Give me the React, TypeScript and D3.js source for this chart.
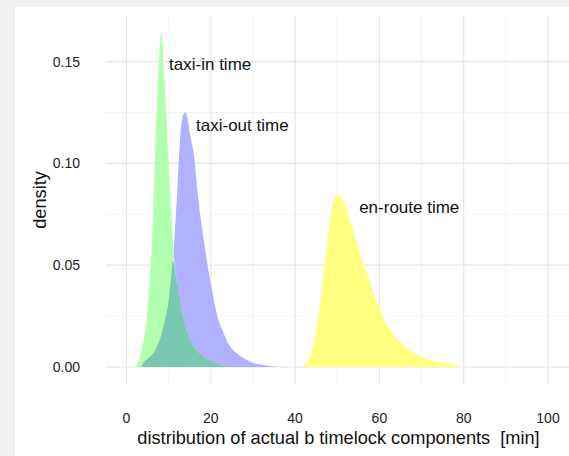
import React from "react";
import * as d3 from "d3";

// Density curves of the three timelock components (minutes -> density)
const taxiInMin = [2, 2.5, 3, 4, 5, 6, 7, 7.5, 8, 8.3, 9, 10, 10.5, 11, 12, 13, 14, 15, 16, 17, 18, 19, 20, 22, 24];
const taxiInDensity = [0, 0.001, 0.004, 0.012, 0.029, 0.06, 0.119, 0.143, 0.16, 0.164, 0.143, 0.1, 0.08, 0.062, 0.041, 0.029, 0.02, 0.014, 0.01, 0.0075, 0.0055, 0.004, 0.003, 0.0012, 0];

const taxiOutMin = [3.5, 4, 5, 6, 7, 8, 9, 10, 11, 12, 12.5, 13, 13.8, 14.5, 15, 16, 17, 18, 19, 20, 21, 22, 23, 24, 25, 26, 28, 30, 32, 34, 36];
const taxiOutDensity = [0, 0.002, 0.004, 0.006, 0.009, 0.014, 0.022, 0.033, 0.052, 0.085, 0.105, 0.119, 0.125, 0.122, 0.115, 0.104, 0.083, 0.067, 0.053, 0.041, 0.03, 0.022, 0.017, 0.012, 0.009, 0.007, 0.004, 0.002, 0.0012, 0.0005, 0];

const enRouteMin = [41.5, 42, 43, 44, 45, 46, 47, 48, 49, 50, 51, 52, 53, 54, 55, 56, 57, 58, 59, 60, 61, 62, 63, 64, 65, 66, 68, 70, 72, 74, 76, 78, 80];
const enRouteDensity = [0, 0.0005, 0.003, 0.008, 0.018, 0.032, 0.05, 0.068, 0.081, 0.0845, 0.083, 0.079, 0.072, 0.065, 0.059, 0.052, 0.046, 0.04, 0.034, 0.029, 0.024, 0.02, 0.017, 0.014, 0.012, 0.01, 0.007, 0.005, 0.0035, 0.0025, 0.0018, 0.001, 0];

// Text labels placed next to each curve
const labelNames = ["taxi-in time", "taxi-out time", "en-route time"];
const labelMin = [10.1, 16.5, 55.2];
const labelDensity = [0.149, 0.119, 0.0787];

const xTicks = [0, 20, 40, 60, 80, 100];
const yTicks = [0, 0.05, 0.1, 0.15];

const W = 569;
const H = 456;

type Pt = { x: number; y: number };
const zipPts = (xs: number[], ys: number[]): Pt[] => xs.map((x, i) => ({ x, y: ys[i] }));

export default function App() {
  const x = d3.scaleLinear().domain([0, 100]).range([126.5, 548]);
  const y = d3.scaleLinear().domain([0, 0.15]).range([367, 61.6]);

  const panel = { left: 106, right: W, top: 16, bottom: 384 };

  const area = d3
    .area<Pt>()
    .x((d) => x(d.x))
    .y0(y(0))
    .y1((d) => y(d.y))
    .curve(d3.curveMonotoneX);

  const taxiIn = zipPts(taxiInMin, taxiInDensity);
  const taxiOut = zipPts(taxiOutMin, taxiOutDensity);
  const enRoute = zipPts(enRouteMin, enRouteDensity);

  // Overlap of taxi-in and taxi-out: the lower of the two curves on a shared grid
  const fIn = (m: number) => {
    if (m <= taxiInMin[0] || m >= taxiInMin[taxiInMin.length - 1]) return 0;
    return d3.scaleLinear().domain(taxiInMin).range(taxiInDensity)(m);
  };
  const fOut = (m: number) => {
    if (m <= taxiOutMin[0] || m >= taxiOutMin[taxiOutMin.length - 1]) return 0;
    return d3.scaleLinear().domain(taxiOutMin).range(taxiOutDensity)(m);
  };
  const gridMin = Array.from(new Set([...taxiInMin, ...taxiOutMin])).sort((a, b) => a - b);
  const overlap = gridMin.map((m) => ({ x: m, y: Math.min(fIn(m), fOut(m)) }));

  const xMinor = d3.range(-10, 111, 20).filter((v) => x(v) > panel.left && x(v) < panel.right);
  const yMinor = [0.025, 0.075, 0.125];

  const font = "'Liberation Sans', Arial, sans-serif";

  return (
    <svg
      width={W}
      height={H}
      style={{ position: "absolute", left: 0, top: 0, display: "block" }}
      fontFamily={font}
    >
      <rect x={0} y={0} width={W} height={H} fill="#f0f0f0" />
      <rect x={15} y={7} width={W - 15} height={H - 7} fill="#ffffff" />

      {/* grid */}
      {yMinor.map((v) => (
        <line key={"ym" + v} x1={panel.left} x2={panel.right} y1={y(v)} y2={y(v)} stroke="#f4f4f4" strokeWidth={1} />
      ))}
      {xMinor.map((v) => (
        <line key={"xm" + v} x1={x(v)} x2={x(v)} y1={panel.top} y2={panel.bottom} stroke="#f4f4f4" strokeWidth={1} />
      ))}
      {yTicks.map((v) => (
        <line key={"y" + v} x1={panel.left} x2={panel.right} y1={y(v)} y2={y(v)} stroke="#e6e6e6" strokeWidth={1.2} />
      ))}
      {xTicks.map((v) => (
        <line key={"x" + v} x1={x(v)} x2={x(v)} y1={panel.top} y2={panel.bottom} stroke="#e6e6e6" strokeWidth={1.2} />
      ))}

      {/* densities */}
      <path d={area(enRoute) ?? ""} fill="#ffff80" />
      <path d={area(taxiOut) ?? ""} fill="#b1b1ff" />
      <path d={area(taxiIn) ?? ""} fill="#b2ffb0" />
      <path d={area(overlap) ?? ""} fill="#79c8b2" />

      {/* curve labels */}
      {labelNames.map((t, i) => (
        <text key={t} x={x(labelMin[i])} y={y(labelDensity[i])} dy="0.35em" fontSize={17} fill="#111">
          {t}
        </text>
      ))}

      {/* axes */}
      {yTicks.map((v) => (
        <text key={"yl" + v} x={80} y={y(v)} dy="0.35em" textAnchor="end" fontSize={14} fill="#222">
          {d3.format(".2f")(v)}
        </text>
      ))}
      {xTicks.map((v) => (
        <text key={"xl" + v} x={x(v)} y={418} dy="0.35em" textAnchor="middle" fontSize={14} fill="#222">
          {v}
        </text>
      ))}
      <text x={338.5} y={438} dy="0.35em" textAnchor="middle" fontSize={18.2} fill="#111" style={{ whiteSpace: "pre" }}>
        {"distribution of actual b timelock components  [min]"}
      </text>
      <text transform={`translate(40,${(panel.top + panel.bottom) / 2}) rotate(-90)`} dy="0.35em" textAnchor="middle" fontSize={18.2} fill="#111">
        density
      </text>
    </svg>
  );
}
